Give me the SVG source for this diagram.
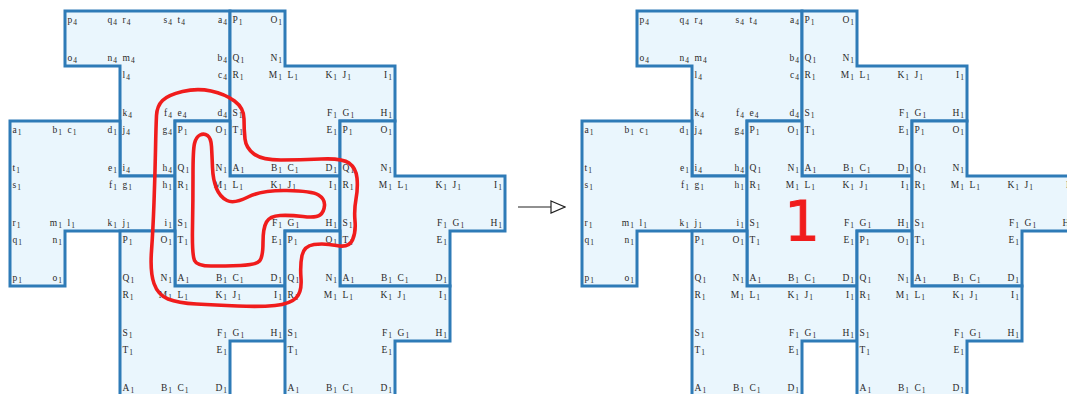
<svg xmlns="http://www.w3.org/2000/svg" width="1067" height="394" viewBox="0 0 1067 394">
<style>
.tile{fill:#eaf6fd;stroke:#2e7bb7;stroke-width:3;stroke-linejoin:miter}
text{font-family:"Liberation Serif","Times New Roman",serif;font-size:9.5px;fill:#2a2a2a}
.e{text-anchor:end}
.s{font-size:7.5px}
.red{fill:none;stroke:#f01c1c;stroke-width:3.6;stroke-linecap:round;stroke-linejoin:round}
.big{font-family:"DejaVu Sans",sans-serif;font-size:56px;fill:#f01c1c;stroke:#f01c1c;stroke-width:1;text-anchor:middle}
</style>
<defs>
<marker id="openArrow" viewBox="0 0 16 14" refX="15" refY="7" markerWidth="16" markerHeight="14" markerUnits="userSpaceOnUse" orient="auto">
<path d="M1,1 L15,7 L1,13 Z" fill="#fff" stroke="#222" stroke-width="1.2"/>
</marker>
</defs>

<!-- LEFT FIGURE -->
<g id="L-tile4" transform="translate(65,11)">
<polygon class="tile" points="0,0 165,0 165,110 110,110 110,165 55,165 55,55 0,55"/>
<text x="2.5" y="12">p<tspan class="s" dx="1" dy="2">4</tspan></text>
<text class="e" x="52" y="12">q<tspan class="s" dx="1" dy="2">4</tspan></text>
<text x="2.5" y="50">o<tspan class="s" dx="1" dy="2">4</tspan></text>
<text class="e" x="52" y="50">n<tspan class="s" dx="1" dy="2">4</tspan></text>
<text x="57.5" y="12">r<tspan class="s" dx="1" dy="2">4</tspan></text>
<text class="e" x="107" y="12">s<tspan class="s" dx="1" dy="2">4</tspan></text>
<text x="57.5" y="50">m<tspan class="s" dx="1" dy="2">4</tspan></text>
<text x="112.5" y="12">t<tspan class="s" dx="1" dy="2">4</tspan></text>
<text class="e" x="162" y="12">a<tspan class="s" dx="1" dy="2">4</tspan></text>
<text class="e" x="162" y="50">b<tspan class="s" dx="1" dy="2">4</tspan></text>
<text x="57.5" y="67">l<tspan class="s" dx="1" dy="2">4</tspan></text>
<text x="57.5" y="105">k<tspan class="s" dx="1" dy="2">4</tspan></text>
<text class="e" x="107" y="105">f<tspan class="s" dx="1" dy="2">4</tspan></text>
<text class="e" x="162" y="67">c<tspan class="s" dx="1" dy="2">4</tspan></text>
<text x="112.5" y="105">e<tspan class="s" dx="1" dy="2">4</tspan></text>
<text class="e" x="162" y="105">d<tspan class="s" dx="1" dy="2">4</tspan></text>
<text x="57.5" y="122">j<tspan class="s" dx="1" dy="2">4</tspan></text>
<text class="e" x="107" y="122">g<tspan class="s" dx="1" dy="2">4</tspan></text>
<text x="57.5" y="160">i<tspan class="s" dx="1" dy="2">4</tspan></text>
<text class="e" x="107" y="160">h<tspan class="s" dx="1" dy="2">4</tspan></text>
</g>

<g id="L-tileX" transform="translate(230,11)">
<polygon class="tile" points="0,0 55,0 55,55 165,55 165,110 110,110 110,165 0,165"/>
<text x="2.5" y="12">P<tspan class="s" dx="1" dy="2">1</tspan></text>
<text class="e" x="52" y="12">O<tspan class="s" dx="1" dy="2">1</tspan></text>
<text x="2.5" y="50">Q<tspan class="s" dx="1" dy="2">1</tspan></text>
<text class="e" x="52" y="50">N<tspan class="s" dx="1" dy="2">1</tspan></text>
<text x="2.5" y="67">R<tspan class="s" dx="1" dy="2">1</tspan></text>
<text class="e" x="52" y="67">M<tspan class="s" dx="1" dy="2">1</tspan></text>
<text x="2.5" y="105">S<tspan class="s" dx="1" dy="2">1</tspan></text>
<text x="57.5" y="67">L<tspan class="s" dx="1" dy="2">1</tspan></text>
<text class="e" x="107" y="67">K<tspan class="s" dx="1" dy="2">1</tspan></text>
<text class="e" x="107" y="105">F<tspan class="s" dx="1" dy="2">1</tspan></text>
<text x="112.5" y="67">J<tspan class="s" dx="1" dy="2">1</tspan></text>
<text class="e" x="162" y="67">I<tspan class="s" dx="1" dy="2">1</tspan></text>
<text x="112.5" y="105">G<tspan class="s" dx="1" dy="2">1</tspan></text>
<text class="e" x="162" y="105">H<tspan class="s" dx="1" dy="2">1</tspan></text>
<text x="2.5" y="122">T<tspan class="s" dx="1" dy="2">1</tspan></text>
<text x="2.5" y="160">A<tspan class="s" dx="1" dy="2">1</tspan></text>
<text class="e" x="52" y="160">B<tspan class="s" dx="1" dy="2">1</tspan></text>
<text class="e" x="107" y="122">E<tspan class="s" dx="1" dy="2">1</tspan></text>
<text x="57.5" y="160">C<tspan class="s" dx="1" dy="2">1</tspan></text>
<text class="e" x="107" y="160">D<tspan class="s" dx="1" dy="2">1</tspan></text>
</g>

<g id="L-tileL" transform="translate(10,121)">
<polygon class="tile" points="0,0 110,0 110,55 165,55 165,110 55,110 55,165 0,165"/>
<text x="2.5" y="12">a<tspan class="s" dx="1" dy="2">1</tspan></text>
<text class="e" x="52" y="12">b<tspan class="s" dx="1" dy="2">1</tspan></text>
<text x="2.5" y="50">t<tspan class="s" dx="1" dy="2">1</tspan></text>
<text x="57.5" y="12">c<tspan class="s" dx="1" dy="2">1</tspan></text>
<text class="e" x="107" y="12">d<tspan class="s" dx="1" dy="2">1</tspan></text>
<text class="e" x="107" y="50">e<tspan class="s" dx="1" dy="2">1</tspan></text>
<text x="2.5" y="67">s<tspan class="s" dx="1" dy="2">1</tspan></text>
<text x="2.5" y="105">r<tspan class="s" dx="1" dy="2">1</tspan></text>
<text class="e" x="52" y="105">m<tspan class="s" dx="1" dy="2">1</tspan></text>
<text class="e" x="107" y="67">f<tspan class="s" dx="1" dy="2">1</tspan></text>
<text x="57.5" y="105">l<tspan class="s" dx="1" dy="2">1</tspan></text>
<text class="e" x="107" y="105">k<tspan class="s" dx="1" dy="2">1</tspan></text>
<text x="112.5" y="67">g<tspan class="s" dx="1" dy="2">1</tspan></text>
<text class="e" x="162" y="67">h<tspan class="s" dx="1" dy="2">1</tspan></text>
<text x="112.5" y="105">j<tspan class="s" dx="1" dy="2">1</tspan></text>
<text class="e" x="162" y="105">i<tspan class="s" dx="1" dy="2">1</tspan></text>
<text x="2.5" y="122">q<tspan class="s" dx="1" dy="2">1</tspan></text>
<text class="e" x="52" y="122">n<tspan class="s" dx="1" dy="2">1</tspan></text>
<text x="2.5" y="160">p<tspan class="s" dx="1" dy="2">1</tspan></text>
<text class="e" x="52" y="160">o<tspan class="s" dx="1" dy="2">1</tspan></text>
</g>

<g id="L-tileA" transform="translate(175,121)">
<polygon class="tile" points="0,0 55,0 55,55 165,55 165,110 110,110 110,165 0,165"/>
<text x="2.5" y="12">P<tspan class="s" dx="1" dy="2">1</tspan></text>
<text class="e" x="52" y="12">O<tspan class="s" dx="1" dy="2">1</tspan></text>
<text x="2.5" y="50">Q<tspan class="s" dx="1" dy="2">1</tspan></text>
<text class="e" x="52" y="50">N<tspan class="s" dx="1" dy="2">1</tspan></text>
<text x="2.5" y="67">R<tspan class="s" dx="1" dy="2">1</tspan></text>
<text class="e" x="52" y="67">M<tspan class="s" dx="1" dy="2">1</tspan></text>
<text x="2.5" y="105">S<tspan class="s" dx="1" dy="2">1</tspan></text>
<text x="57.5" y="67">L<tspan class="s" dx="1" dy="2">1</tspan></text>
<text class="e" x="107" y="67">K<tspan class="s" dx="1" dy="2">1</tspan></text>
<text class="e" x="107" y="105">F<tspan class="s" dx="1" dy="2">1</tspan></text>
<text x="112.5" y="67">J<tspan class="s" dx="1" dy="2">1</tspan></text>
<text class="e" x="162" y="67">I<tspan class="s" dx="1" dy="2">1</tspan></text>
<text x="112.5" y="105">G<tspan class="s" dx="1" dy="2">1</tspan></text>
<text class="e" x="162" y="105">H<tspan class="s" dx="1" dy="2">1</tspan></text>
<text x="2.5" y="122">T<tspan class="s" dx="1" dy="2">1</tspan></text>
<text x="2.5" y="160">A<tspan class="s" dx="1" dy="2">1</tspan></text>
<text class="e" x="52" y="160">B<tspan class="s" dx="1" dy="2">1</tspan></text>
<text class="e" x="107" y="122">E<tspan class="s" dx="1" dy="2">1</tspan></text>
<text x="57.5" y="160">C<tspan class="s" dx="1" dy="2">1</tspan></text>
<text class="e" x="107" y="160">D<tspan class="s" dx="1" dy="2">1</tspan></text>
</g>

<g id="L-tileB" transform="translate(340,121)">
<polygon class="tile" points="0,0 55,0 55,55 165,55 165,110 110,110 110,165 0,165"/>
<text x="2.5" y="12">P<tspan class="s" dx="1" dy="2">1</tspan></text>
<text class="e" x="52" y="12">O<tspan class="s" dx="1" dy="2">1</tspan></text>
<text x="2.5" y="50">Q<tspan class="s" dx="1" dy="2">1</tspan></text>
<text class="e" x="52" y="50">N<tspan class="s" dx="1" dy="2">1</tspan></text>
<text x="2.5" y="67">R<tspan class="s" dx="1" dy="2">1</tspan></text>
<text class="e" x="52" y="67">M<tspan class="s" dx="1" dy="2">1</tspan></text>
<text x="2.5" y="105">S<tspan class="s" dx="1" dy="2">1</tspan></text>
<text x="57.5" y="67">L<tspan class="s" dx="1" dy="2">1</tspan></text>
<text class="e" x="107" y="67">K<tspan class="s" dx="1" dy="2">1</tspan></text>
<text class="e" x="107" y="105">F<tspan class="s" dx="1" dy="2">1</tspan></text>
<text x="112.5" y="67">J<tspan class="s" dx="1" dy="2">1</tspan></text>
<text class="e" x="162" y="67">I<tspan class="s" dx="1" dy="2">1</tspan></text>
<text x="112.5" y="105">G<tspan class="s" dx="1" dy="2">1</tspan></text>
<text class="e" x="162" y="105">H<tspan class="s" dx="1" dy="2">1</tspan></text>
<text x="2.5" y="122">T<tspan class="s" dx="1" dy="2">1</tspan></text>
<text x="2.5" y="160">A<tspan class="s" dx="1" dy="2">1</tspan></text>
<text class="e" x="52" y="160">B<tspan class="s" dx="1" dy="2">1</tspan></text>
<text class="e" x="107" y="122">E<tspan class="s" dx="1" dy="2">1</tspan></text>
<text x="57.5" y="160">C<tspan class="s" dx="1" dy="2">1</tspan></text>
<text class="e" x="107" y="160">D<tspan class="s" dx="1" dy="2">1</tspan></text>
</g>

<g id="L-tileC" transform="translate(120,231)">
<polygon class="tile" points="0,0 55,0 55,55 165,55 165,110 110,110 110,165 0,165"/>
<text x="2.5" y="12">P<tspan class="s" dx="1" dy="2">1</tspan></text>
<text class="e" x="52" y="12">O<tspan class="s" dx="1" dy="2">1</tspan></text>
<text x="2.5" y="50">Q<tspan class="s" dx="1" dy="2">1</tspan></text>
<text class="e" x="52" y="50">N<tspan class="s" dx="1" dy="2">1</tspan></text>
<text x="2.5" y="67">R<tspan class="s" dx="1" dy="2">1</tspan></text>
<text class="e" x="52" y="67">M<tspan class="s" dx="1" dy="2">1</tspan></text>
<text x="2.5" y="105">S<tspan class="s" dx="1" dy="2">1</tspan></text>
<text x="57.5" y="67">L<tspan class="s" dx="1" dy="2">1</tspan></text>
<text class="e" x="107" y="67">K<tspan class="s" dx="1" dy="2">1</tspan></text>
<text class="e" x="107" y="105">F<tspan class="s" dx="1" dy="2">1</tspan></text>
<text x="112.5" y="67">J<tspan class="s" dx="1" dy="2">1</tspan></text>
<text class="e" x="162" y="67">I<tspan class="s" dx="1" dy="2">1</tspan></text>
<text x="112.5" y="105">G<tspan class="s" dx="1" dy="2">1</tspan></text>
<text class="e" x="162" y="105">H<tspan class="s" dx="1" dy="2">1</tspan></text>
<text x="2.5" y="122">T<tspan class="s" dx="1" dy="2">1</tspan></text>
<text x="2.5" y="160">A<tspan class="s" dx="1" dy="2">1</tspan></text>
<text class="e" x="52" y="160">B<tspan class="s" dx="1" dy="2">1</tspan></text>
<text class="e" x="107" y="122">E<tspan class="s" dx="1" dy="2">1</tspan></text>
<text x="57.5" y="160">C<tspan class="s" dx="1" dy="2">1</tspan></text>
<text class="e" x="107" y="160">D<tspan class="s" dx="1" dy="2">1</tspan></text>
</g>

<g id="L-tileD" transform="translate(285,231)">
<polygon class="tile" points="0,0 55,0 55,55 165,55 165,110 110,110 110,165 0,165"/>
<text x="2.5" y="12">P<tspan class="s" dx="1" dy="2">1</tspan></text>
<text class="e" x="52" y="12">O<tspan class="s" dx="1" dy="2">1</tspan></text>
<text x="2.5" y="50">Q<tspan class="s" dx="1" dy="2">1</tspan></text>
<text class="e" x="52" y="50">N<tspan class="s" dx="1" dy="2">1</tspan></text>
<text x="2.5" y="67">R<tspan class="s" dx="1" dy="2">1</tspan></text>
<text class="e" x="52" y="67">M<tspan class="s" dx="1" dy="2">1</tspan></text>
<text x="2.5" y="105">S<tspan class="s" dx="1" dy="2">1</tspan></text>
<text x="57.5" y="67">L<tspan class="s" dx="1" dy="2">1</tspan></text>
<text class="e" x="107" y="67">K<tspan class="s" dx="1" dy="2">1</tspan></text>
<text class="e" x="107" y="105">F<tspan class="s" dx="1" dy="2">1</tspan></text>
<text x="112.5" y="67">J<tspan class="s" dx="1" dy="2">1</tspan></text>
<text class="e" x="162" y="67">I<tspan class="s" dx="1" dy="2">1</tspan></text>
<text x="112.5" y="105">G<tspan class="s" dx="1" dy="2">1</tspan></text>
<text class="e" x="162" y="105">H<tspan class="s" dx="1" dy="2">1</tspan></text>
<text x="2.5" y="122">T<tspan class="s" dx="1" dy="2">1</tspan></text>
<text x="2.5" y="160">A<tspan class="s" dx="1" dy="2">1</tspan></text>
<text class="e" x="52" y="160">B<tspan class="s" dx="1" dy="2">1</tspan></text>
<text class="e" x="107" y="122">E<tspan class="s" dx="1" dy="2">1</tspan></text>
<text x="57.5" y="160">C<tspan class="s" dx="1" dy="2">1</tspan></text>
<text class="e" x="107" y="160">D<tspan class="s" dx="1" dy="2">1</tspan></text>
</g>

<g id="L-curve">
<path class="red" d="M155.5,150 Q156,125 156.5,115.5 Q157,106 162.5,100.5 Q168,95 182.5,91.5 Q197,88 211,91 Q225,94 234.5,101 Q244,108 244,119 Q244,130 245,139 Q246,148 254,154 Q262,160 281,160 Q300,160 321,159 Q342,158 349,163 Q356,168 357,178 Q358,188 356,199 Q354,210 355,221 Q356,232 352.5,240 Q349,248 336.5,245.5 Q324,243 314,244.5 Q304,246 302,255.5 Q300,265 301,278.5 Q302,292 296,298 Q290,304 275,305.5 Q260,307 237.5,306 Q215,305 196.5,304 Q178,303 168,299 Q158,295 154,283.5 Q150,272 151.5,251 Q153,230 154,202.5 Q155,175 155.5,150 Z"/>
<path class="red" d="M192.5,227.5 Q193,200 193,175 Q193,150 194.5,143.5 Q196,137 200,135 Q204,133 207.5,135.5 Q211,138 211.5,146.5 Q212,155 212.5,167.5 Q213,180 216.5,188.5 Q220,197 227,200.5 Q234,204 248,197 Q262,190 287,190.5 Q312,191 318.5,195 Q325,199 324.5,205.5 Q324,212 320,215 Q316,218 303,216.5 Q290,215 280,215.5 Q270,216 266.5,222 Q263,228 263,242.5 Q263,257 259.5,261 Q256,265 240.5,265.5 Q225,266 211,266 Q197,266 194.5,260.5 Q192,255 192.5,227.5 Z"/>
</g>

<g id="connectors">
<line x1="518" y1="207" x2="565" y2="207" stroke="#222" stroke-width="1.2" marker-end="url(#openArrow)"/>
</g>

<!-- RIGHT FIGURE -->
<g id="R-tile4" transform="translate(637,11)">
<polygon class="tile" points="0,0 165,0 165,110 110,110 110,165 55,165 55,55 0,55"/>
<text x="2.5" y="12">p<tspan class="s" dx="1" dy="2">4</tspan></text>
<text class="e" x="52" y="12">q<tspan class="s" dx="1" dy="2">4</tspan></text>
<text x="2.5" y="50">o<tspan class="s" dx="1" dy="2">4</tspan></text>
<text class="e" x="52" y="50">n<tspan class="s" dx="1" dy="2">4</tspan></text>
<text x="57.5" y="12">r<tspan class="s" dx="1" dy="2">4</tspan></text>
<text class="e" x="107" y="12">s<tspan class="s" dx="1" dy="2">4</tspan></text>
<text x="57.5" y="50">m<tspan class="s" dx="1" dy="2">4</tspan></text>
<text x="112.5" y="12">t<tspan class="s" dx="1" dy="2">4</tspan></text>
<text class="e" x="162" y="12">a<tspan class="s" dx="1" dy="2">4</tspan></text>
<text class="e" x="162" y="50">b<tspan class="s" dx="1" dy="2">4</tspan></text>
<text x="57.5" y="67">l<tspan class="s" dx="1" dy="2">4</tspan></text>
<text x="57.5" y="105">k<tspan class="s" dx="1" dy="2">4</tspan></text>
<text class="e" x="107" y="105">f<tspan class="s" dx="1" dy="2">4</tspan></text>
<text class="e" x="162" y="67">c<tspan class="s" dx="1" dy="2">4</tspan></text>
<text x="112.5" y="105">e<tspan class="s" dx="1" dy="2">4</tspan></text>
<text class="e" x="162" y="105">d<tspan class="s" dx="1" dy="2">4</tspan></text>
<text x="57.5" y="122">j<tspan class="s" dx="1" dy="2">4</tspan></text>
<text class="e" x="107" y="122">g<tspan class="s" dx="1" dy="2">4</tspan></text>
<text x="57.5" y="160">i<tspan class="s" dx="1" dy="2">4</tspan></text>
<text class="e" x="107" y="160">h<tspan class="s" dx="1" dy="2">4</tspan></text>
</g>

<g id="R-tileX" transform="translate(802,11)">
<polygon class="tile" points="0,0 55,0 55,55 165,55 165,110 110,110 110,165 0,165"/>
<text x="2.5" y="12">P<tspan class="s" dx="1" dy="2">1</tspan></text>
<text class="e" x="52" y="12">O<tspan class="s" dx="1" dy="2">1</tspan></text>
<text x="2.5" y="50">Q<tspan class="s" dx="1" dy="2">1</tspan></text>
<text class="e" x="52" y="50">N<tspan class="s" dx="1" dy="2">1</tspan></text>
<text x="2.5" y="67">R<tspan class="s" dx="1" dy="2">1</tspan></text>
<text class="e" x="52" y="67">M<tspan class="s" dx="1" dy="2">1</tspan></text>
<text x="2.5" y="105">S<tspan class="s" dx="1" dy="2">1</tspan></text>
<text x="57.5" y="67">L<tspan class="s" dx="1" dy="2">1</tspan></text>
<text class="e" x="107" y="67">K<tspan class="s" dx="1" dy="2">1</tspan></text>
<text class="e" x="107" y="105">F<tspan class="s" dx="1" dy="2">1</tspan></text>
<text x="112.5" y="67">J<tspan class="s" dx="1" dy="2">1</tspan></text>
<text class="e" x="162" y="67">I<tspan class="s" dx="1" dy="2">1</tspan></text>
<text x="112.5" y="105">G<tspan class="s" dx="1" dy="2">1</tspan></text>
<text class="e" x="162" y="105">H<tspan class="s" dx="1" dy="2">1</tspan></text>
<text x="2.5" y="122">T<tspan class="s" dx="1" dy="2">1</tspan></text>
<text x="2.5" y="160">A<tspan class="s" dx="1" dy="2">1</tspan></text>
<text class="e" x="52" y="160">B<tspan class="s" dx="1" dy="2">1</tspan></text>
<text class="e" x="107" y="122">E<tspan class="s" dx="1" dy="2">1</tspan></text>
<text x="57.5" y="160">C<tspan class="s" dx="1" dy="2">1</tspan></text>
<text class="e" x="107" y="160">D<tspan class="s" dx="1" dy="2">1</tspan></text>
</g>

<g id="R-tileL" transform="translate(582,121)">
<polygon class="tile" points="0,0 110,0 110,55 165,55 165,110 55,110 55,165 0,165"/>
<text x="2.5" y="12">a<tspan class="s" dx="1" dy="2">1</tspan></text>
<text class="e" x="52" y="12">b<tspan class="s" dx="1" dy="2">1</tspan></text>
<text x="2.5" y="50">t<tspan class="s" dx="1" dy="2">1</tspan></text>
<text x="57.5" y="12">c<tspan class="s" dx="1" dy="2">1</tspan></text>
<text class="e" x="107" y="12">d<tspan class="s" dx="1" dy="2">1</tspan></text>
<text class="e" x="107" y="50">e<tspan class="s" dx="1" dy="2">1</tspan></text>
<text x="2.5" y="67">s<tspan class="s" dx="1" dy="2">1</tspan></text>
<text x="2.5" y="105">r<tspan class="s" dx="1" dy="2">1</tspan></text>
<text class="e" x="52" y="105">m<tspan class="s" dx="1" dy="2">1</tspan></text>
<text class="e" x="107" y="67">f<tspan class="s" dx="1" dy="2">1</tspan></text>
<text x="57.5" y="105">l<tspan class="s" dx="1" dy="2">1</tspan></text>
<text class="e" x="107" y="105">k<tspan class="s" dx="1" dy="2">1</tspan></text>
<text x="112.5" y="67">g<tspan class="s" dx="1" dy="2">1</tspan></text>
<text class="e" x="162" y="67">h<tspan class="s" dx="1" dy="2">1</tspan></text>
<text x="112.5" y="105">j<tspan class="s" dx="1" dy="2">1</tspan></text>
<text class="e" x="162" y="105">i<tspan class="s" dx="1" dy="2">1</tspan></text>
<text x="2.5" y="122">q<tspan class="s" dx="1" dy="2">1</tspan></text>
<text class="e" x="52" y="122">n<tspan class="s" dx="1" dy="2">1</tspan></text>
<text x="2.5" y="160">p<tspan class="s" dx="1" dy="2">1</tspan></text>
<text class="e" x="52" y="160">o<tspan class="s" dx="1" dy="2">1</tspan></text>
</g>

<g id="R-tileA" transform="translate(747,121)">
<polygon class="tile" points="0,0 55,0 55,55 165,55 165,110 110,110 110,165 0,165"/>
<text x="2.5" y="12">P<tspan class="s" dx="1" dy="2">1</tspan></text>
<text class="e" x="52" y="12">O<tspan class="s" dx="1" dy="2">1</tspan></text>
<text x="2.5" y="50">Q<tspan class="s" dx="1" dy="2">1</tspan></text>
<text class="e" x="52" y="50">N<tspan class="s" dx="1" dy="2">1</tspan></text>
<text x="2.5" y="67">R<tspan class="s" dx="1" dy="2">1</tspan></text>
<text class="e" x="52" y="67">M<tspan class="s" dx="1" dy="2">1</tspan></text>
<text x="2.5" y="105">S<tspan class="s" dx="1" dy="2">1</tspan></text>
<text x="57.5" y="67">L<tspan class="s" dx="1" dy="2">1</tspan></text>
<text class="e" x="107" y="67">K<tspan class="s" dx="1" dy="2">1</tspan></text>
<text class="e" x="107" y="105">F<tspan class="s" dx="1" dy="2">1</tspan></text>
<text x="112.5" y="67">J<tspan class="s" dx="1" dy="2">1</tspan></text>
<text class="e" x="162" y="67">I<tspan class="s" dx="1" dy="2">1</tspan></text>
<text x="112.5" y="105">G<tspan class="s" dx="1" dy="2">1</tspan></text>
<text class="e" x="162" y="105">H<tspan class="s" dx="1" dy="2">1</tspan></text>
<text x="2.5" y="122">T<tspan class="s" dx="1" dy="2">1</tspan></text>
<text x="2.5" y="160">A<tspan class="s" dx="1" dy="2">1</tspan></text>
<text class="e" x="52" y="160">B<tspan class="s" dx="1" dy="2">1</tspan></text>
<text class="e" x="107" y="122">E<tspan class="s" dx="1" dy="2">1</tspan></text>
<text x="57.5" y="160">C<tspan class="s" dx="1" dy="2">1</tspan></text>
<text class="e" x="107" y="160">D<tspan class="s" dx="1" dy="2">1</tspan></text>
</g>

<g id="R-tileB" transform="translate(912,121)">
<polygon class="tile" points="0,0 55,0 55,55 165,55 165,110 110,110 110,165 0,165"/>
<text x="2.5" y="12">P<tspan class="s" dx="1" dy="2">1</tspan></text>
<text class="e" x="52" y="12">O<tspan class="s" dx="1" dy="2">1</tspan></text>
<text x="2.5" y="50">Q<tspan class="s" dx="1" dy="2">1</tspan></text>
<text class="e" x="52" y="50">N<tspan class="s" dx="1" dy="2">1</tspan></text>
<text x="2.5" y="67">R<tspan class="s" dx="1" dy="2">1</tspan></text>
<text class="e" x="52" y="67">M<tspan class="s" dx="1" dy="2">1</tspan></text>
<text x="2.5" y="105">S<tspan class="s" dx="1" dy="2">1</tspan></text>
<text x="57.5" y="67">L<tspan class="s" dx="1" dy="2">1</tspan></text>
<text class="e" x="107" y="67">K<tspan class="s" dx="1" dy="2">1</tspan></text>
<text class="e" x="107" y="105">F<tspan class="s" dx="1" dy="2">1</tspan></text>
<text x="112.5" y="67">J<tspan class="s" dx="1" dy="2">1</tspan></text>
<text class="e" x="162" y="67">I<tspan class="s" dx="1" dy="2">1</tspan></text>
<text x="112.5" y="105">G<tspan class="s" dx="1" dy="2">1</tspan></text>
<text class="e" x="162" y="105">H<tspan class="s" dx="1" dy="2">1</tspan></text>
<text x="2.5" y="122">T<tspan class="s" dx="1" dy="2">1</tspan></text>
<text x="2.5" y="160">A<tspan class="s" dx="1" dy="2">1</tspan></text>
<text class="e" x="52" y="160">B<tspan class="s" dx="1" dy="2">1</tspan></text>
<text class="e" x="107" y="122">E<tspan class="s" dx="1" dy="2">1</tspan></text>
<text x="57.5" y="160">C<tspan class="s" dx="1" dy="2">1</tspan></text>
<text class="e" x="107" y="160">D<tspan class="s" dx="1" dy="2">1</tspan></text>
</g>

<g id="R-tileC" transform="translate(692,231)">
<polygon class="tile" points="0,0 55,0 55,55 165,55 165,110 110,110 110,165 0,165"/>
<text x="2.5" y="12">P<tspan class="s" dx="1" dy="2">1</tspan></text>
<text class="e" x="52" y="12">O<tspan class="s" dx="1" dy="2">1</tspan></text>
<text x="2.5" y="50">Q<tspan class="s" dx="1" dy="2">1</tspan></text>
<text class="e" x="52" y="50">N<tspan class="s" dx="1" dy="2">1</tspan></text>
<text x="2.5" y="67">R<tspan class="s" dx="1" dy="2">1</tspan></text>
<text class="e" x="52" y="67">M<tspan class="s" dx="1" dy="2">1</tspan></text>
<text x="2.5" y="105">S<tspan class="s" dx="1" dy="2">1</tspan></text>
<text x="57.5" y="67">L<tspan class="s" dx="1" dy="2">1</tspan></text>
<text class="e" x="107" y="67">K<tspan class="s" dx="1" dy="2">1</tspan></text>
<text class="e" x="107" y="105">F<tspan class="s" dx="1" dy="2">1</tspan></text>
<text x="112.5" y="67">J<tspan class="s" dx="1" dy="2">1</tspan></text>
<text class="e" x="162" y="67">I<tspan class="s" dx="1" dy="2">1</tspan></text>
<text x="112.5" y="105">G<tspan class="s" dx="1" dy="2">1</tspan></text>
<text class="e" x="162" y="105">H<tspan class="s" dx="1" dy="2">1</tspan></text>
<text x="2.5" y="122">T<tspan class="s" dx="1" dy="2">1</tspan></text>
<text x="2.5" y="160">A<tspan class="s" dx="1" dy="2">1</tspan></text>
<text class="e" x="52" y="160">B<tspan class="s" dx="1" dy="2">1</tspan></text>
<text class="e" x="107" y="122">E<tspan class="s" dx="1" dy="2">1</tspan></text>
<text x="57.5" y="160">C<tspan class="s" dx="1" dy="2">1</tspan></text>
<text class="e" x="107" y="160">D<tspan class="s" dx="1" dy="2">1</tspan></text>
</g>

<g id="R-tileD" transform="translate(857,231)">
<polygon class="tile" points="0,0 55,0 55,55 165,55 165,110 110,110 110,165 0,165"/>
<text x="2.5" y="12">P<tspan class="s" dx="1" dy="2">1</tspan></text>
<text class="e" x="52" y="12">O<tspan class="s" dx="1" dy="2">1</tspan></text>
<text x="2.5" y="50">Q<tspan class="s" dx="1" dy="2">1</tspan></text>
<text class="e" x="52" y="50">N<tspan class="s" dx="1" dy="2">1</tspan></text>
<text x="2.5" y="67">R<tspan class="s" dx="1" dy="2">1</tspan></text>
<text class="e" x="52" y="67">M<tspan class="s" dx="1" dy="2">1</tspan></text>
<text x="2.5" y="105">S<tspan class="s" dx="1" dy="2">1</tspan></text>
<text x="57.5" y="67">L<tspan class="s" dx="1" dy="2">1</tspan></text>
<text class="e" x="107" y="67">K<tspan class="s" dx="1" dy="2">1</tspan></text>
<text class="e" x="107" y="105">F<tspan class="s" dx="1" dy="2">1</tspan></text>
<text x="112.5" y="67">J<tspan class="s" dx="1" dy="2">1</tspan></text>
<text class="e" x="162" y="67">I<tspan class="s" dx="1" dy="2">1</tspan></text>
<text x="112.5" y="105">G<tspan class="s" dx="1" dy="2">1</tspan></text>
<text class="e" x="162" y="105">H<tspan class="s" dx="1" dy="2">1</tspan></text>
<text x="2.5" y="122">T<tspan class="s" dx="1" dy="2">1</tspan></text>
<text x="2.5" y="160">A<tspan class="s" dx="1" dy="2">1</tspan></text>
<text class="e" x="52" y="160">B<tspan class="s" dx="1" dy="2">1</tspan></text>
<text class="e" x="107" y="122">E<tspan class="s" dx="1" dy="2">1</tspan></text>
<text x="57.5" y="160">C<tspan class="s" dx="1" dy="2">1</tspan></text>
<text class="e" x="107" y="160">D<tspan class="s" dx="1" dy="2">1</tspan></text>
</g>

<g id="R-mark">
<text class="big" x="802" y="240">1</text>
</g>
</svg>
